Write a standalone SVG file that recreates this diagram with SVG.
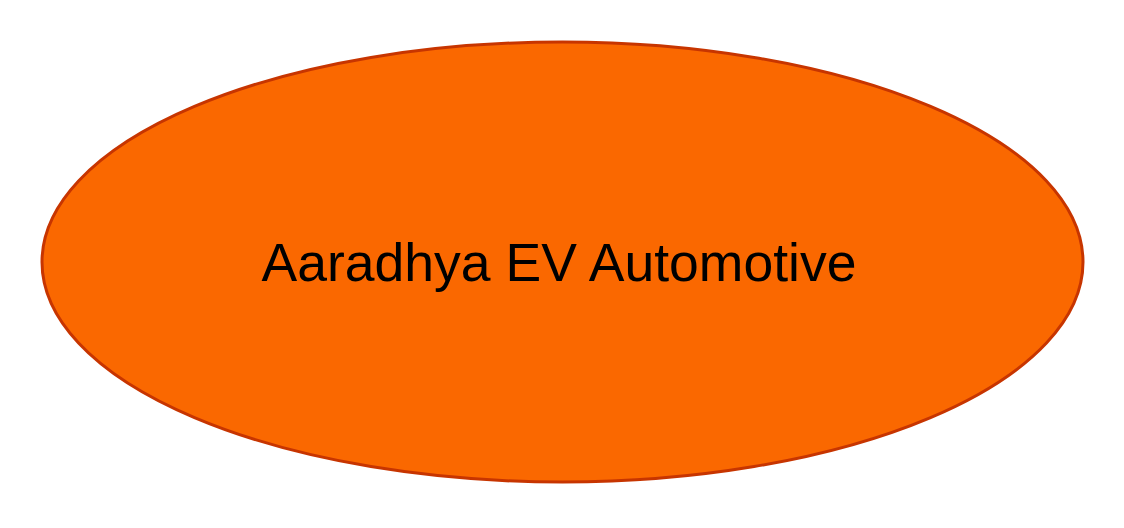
<svg xmlns="http://www.w3.org/2000/svg" width="1124" height="528" viewBox="0 0 1124 528">
<style>
.node{fill:#fa6800;stroke:#c73500;stroke-width:3}
.label{font-family:"Liberation Sans",Arial,sans-serif;font-size:53.5px;fill:#000000;text-anchor:middle}
</style>
<rect width="1124" height="528" fill="#ffffff"/>
<g id="connectors"></g>
<g id="node-aaradhya">
<ellipse class="node" cx="562.5" cy="262" rx="520.5" ry="220"/>
<text class="label" x="559" y="281">Aaradhya EV Automotive</text>
</g>
</svg>
